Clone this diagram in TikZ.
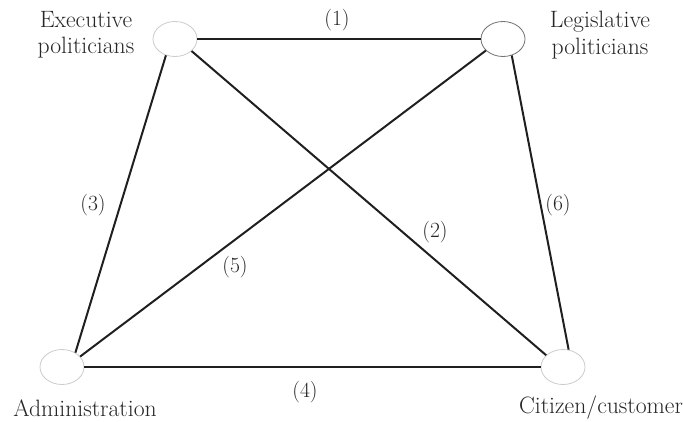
\documentclass[tikz,border=0pt]{standalone}
\usetikzlibrary{shapes.geometric, positioning}
\tikzset{
  actor/.style = {draw=black!20, ellipse, line width=0.7pt,
                  minimum width=1.32cm, minimum height=1.05cm, inner sep=0pt},
  actorleg/.style = {actor, draw=black!55},
  link/.style  = {line width=1.7pt, black!88},
  actorname/.style = {font=\fontsize{20.2}{22.5}\selectfont, align=center,
                  inner sep=0pt, text=black!85},
  num/.style   = {font=\fontsize{18.5}{20}\selectfont, inner sep=0pt,
                  text=black!85}
}

\begin{document}
\begin{tikzpicture}[x=0.03cm, y=-0.03cm]
  \useasboundingbox (0,0) rectangle (683,421);

  % ── Actors ────────────────────────────────────────────────────────────────
  \node[actor]    (Exe) at (175,39)  {};   % executive politicians
  \node[actorleg] (Leg) at (503,39)  {};   % legislative politicians
  \node[actor]    (Adm) at (62,367)  {};   % administration
  \node[actor]    (Cit) at (563,367) {};   % citizen/customer

  % ── Actor names ───────────────────────────────────────────────────────────
  \node[actorname] (ExeName) at (86,35)   {Executive\\politicians};
  \node[actorname] (LegName) at (600,35)  {Legislative\\politicians};
  \node[actorname] (AdmName) at (85,408)  {Administration};
  \node[actorname] (CitName) at (601,408) {Citizen/customer};

  % ── Relations ─────────────────────────────────────────────────────────────
  \draw[link] (Exe.east) -- (Leg.west);     % (1)
  \draw[link] (Exe.324)  -- (Cit.145);      % (2)
  \draw[link] (Exe.241)  -- (Adm.47);       % (3)
  \draw[link] (Adm.east) -- (Cit.west);     % (4)
  \draw[link] (Leg.214)  -- (Adm.30);       % (5)
  \draw[link] (Leg.298)  -- (Cit.72);       % (6)

  % ── Relation numbers ──────────────────────────────────────────────────────
  \node[num] (R1) at (337,20)  {(1)};
  \node[num] (R2) at (435,232) {(2)};
  \node[num] (R3) at (93,205)  {(3)};
  \node[num] (R4) at (305,392) {(4)};
  \node[num] (R5) at (235,267) {(5)};
  \node[num] (R6) at (558,205) {(6)};

\end{tikzpicture}
\end{document}
